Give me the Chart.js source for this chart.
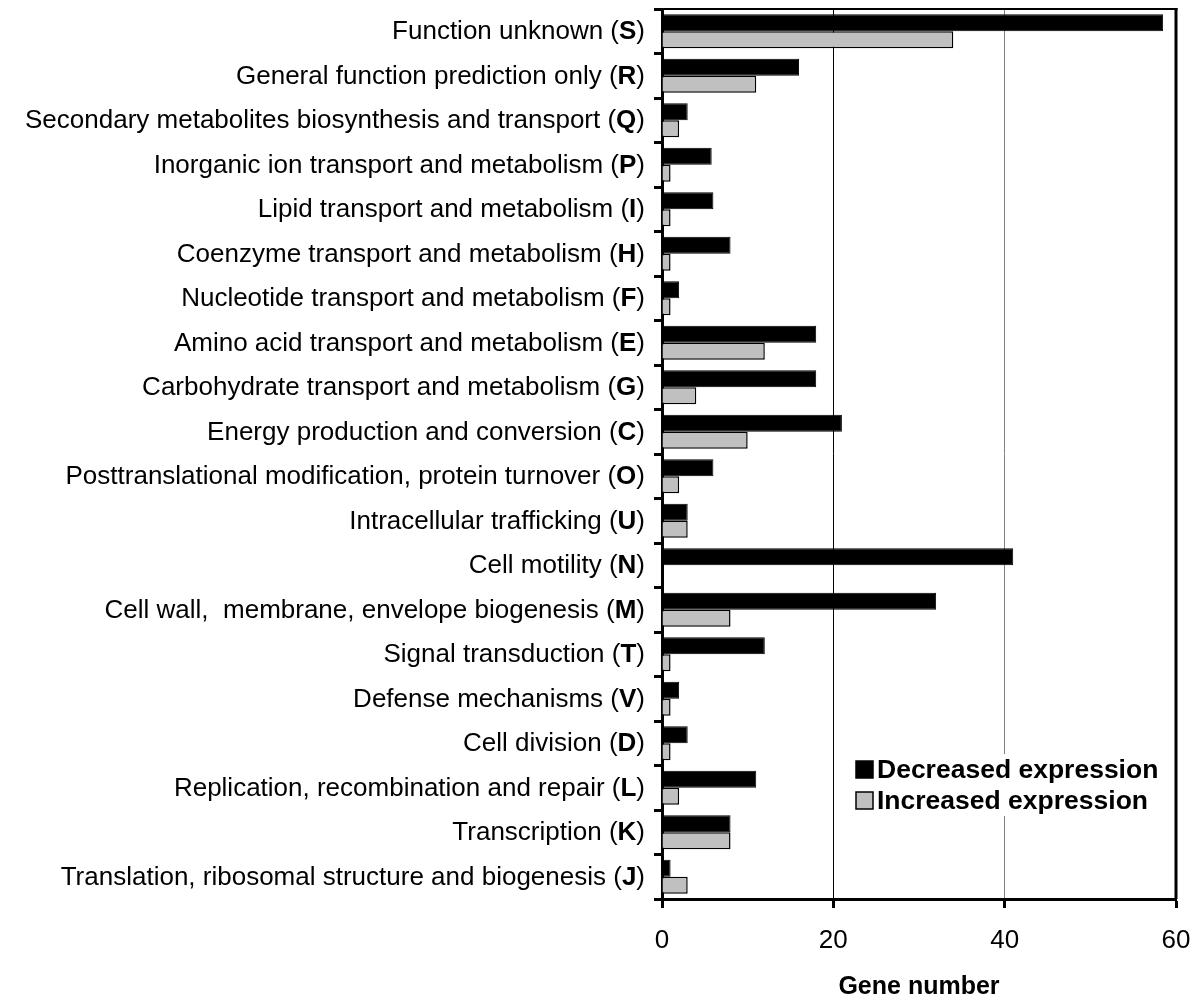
<!DOCTYPE html>
<html><head><meta charset="utf-8">
<script src="https://cdn.jsdelivr.net/npm/chart.js@4.4.1/dist/chart.umd.min.js"></script>
<style>html,body{margin:0;padding:0;background:#fff;} #wrap{width:1195px;height:1005px;}</style>
</head><body><div id="wrap"><canvas id="c" width="1195" height="1005"></canvas></div>
<script>
const categoryNames = [
  'Function unknown',
  'General function prediction only',
  'Secondary metabolites biosynthesis and transport',
  'Inorganic ion transport and metabolism',
  'Lipid transport and metabolism',
  'Coenzyme transport and metabolism',
  'Nucleotide transport and metabolism',
  'Amino acid transport and metabolism',
  'Carbohydrate transport and metabolism',
  'Energy production and conversion',
  'Posttranslational modification, protein turnover',
  'Intracellular trafficking',
  'Cell motility',
  'Cell wall,  membrane, envelope biogenesis',
  'Signal transduction',
  'Defense mechanisms',
  'Cell division',
  'Replication, recombination and repair',
  'Transcription',
  'Translation, ribosomal structure and biogenesis'
];
const categoryCodes = ['S','R','Q','P','I','H','F','E','G','C','O','U','N','M','T','V','D','L','K','J'];
const decreased = [58.5,16,3,5.8,6,8,2,18,18,21,6,3,41,32,12,2,3,11,8,1];
const increased = [34,11,2,1,1,1,1,12,4,10,2,3,0,8,1,1,1,2,8,3];
const xTicks = [0,20,40,60];
const seriesNames = ['Decreased expression','Increased expression'];
const axisTitle = 'Gene number';

const FONT = '"Liberation Sans", Arial, sans-serif';
Chart.defaults.font.family = FONT;
Chart.defaults.color = '#000';

const labels = categoryNames.map((n,i)=> n + ' (' + categoryCodes[i] + ')');

const customDraw = {
  id: 'customDraw',
  afterDraw(chart) {
    const ctx = chart.ctx;
    const ca = chart.chartArea;
    const ys = chart.scales.y;
    ctx.save();
    // frame top and right
    ctx.strokeStyle = '#000';
    ctx.lineWidth = 2;
    ctx.beginPath();
    ctx.moveTo(ca.left, ca.top); ctx.lineTo(ca.right + 1.5, ca.top);
    ctx.stroke();
    ctx.lineWidth = 3;
    ctx.beginPath();
    ctx.moveTo(ca.right, ca.top - 1); ctx.lineTo(ca.right, ca.bottom);
    ctx.stroke();

    // category labels with bold code letter
    ctx.fillStyle = '#000';
    ctx.textBaseline = 'middle';
    ctx.textAlign = 'left';
    const normal = '26px ' + FONT;
    const bold = 'bold 26px ' + FONT;
    const rightX = ca.left - 17;
    categoryNames.forEach((name, i) => {
      const y = ys.getPixelForTick(i);
      const a = name + ' (';
      const b = categoryCodes[i];
      const c = ')';
      ctx.font = normal; const wa = ctx.measureText(a).width; const wc = ctx.measureText(c).width;
      ctx.font = bold; const wb = ctx.measureText(b).width;
      let x = rightX - (wa + wb + wc);
      ctx.font = normal; ctx.fillText(a, x, y + 1); x += wa;
      ctx.font = bold; ctx.fillText(b, x, y + 1); x += wb;
      ctx.font = normal; ctx.fillText(c, x, y + 1);
    });

    // legend inside plot
    const lx = ca.left + 186, ly = ca.bottom - 145;
    ctx.fillStyle = '#fff';
    ctx.fillRect(lx, ly, 318, 62);
    const ds = chart.data.datasets;
    ctx.font = 'bold 26.5px ' + FONT;
    ctx.textBaseline = 'alphabetic';
    ds.forEach((d, i) => {
      const sy = ly + 7 + i * 31;
      ctx.fillStyle = d.backgroundColor;
      ctx.fillRect(lx + 8, sy, 17, 17);
      ctx.strokeStyle = '#000';
      ctx.lineWidth = 1.5;
      ctx.strokeRect(lx + 8, sy, 17, 17);
      ctx.fillStyle = '#000';
      ctx.fillText(d.label, lx + 29, sy + 17);
    });
    ctx.restore();
  }
};

new Chart(document.getElementById('c'), {
  type: 'bar',
  data: {
    labels: labels,
    datasets: [
      { label: seriesNames[0], data: decreased, backgroundColor: '#000000', borderColor: '#000000', borderWidth: 1,
        categoryPercentage: 0.76, barPercentage: 1.0 },
      { label: seriesNames[1], data: increased, backgroundColor: '#c0c0c0', borderColor: '#000000', borderWidth: 1.5,
        categoryPercentage: 0.76, barPercentage: 1.0 }
    ]
  },
  options: {
    indexAxis: 'y',
    responsive: false,
    animation: false,
    devicePixelRatio: 1,
    layout: { padding: { top: 9, right: 19, left: 0, bottom: 0 } },
    plugins: { legend: { display: false }, tooltip: { enabled: false } },
    scales: {
      x: {
        type: 'linear', position: 'bottom', min: xTicks[0], max: xTicks[xTicks.length-1],
        afterBuildTicks: s => { s.ticks = xTicks.map(v => ({ value: v })); },
        ticks: { font: { size: 26 }, color: '#000', padding: 17, maxRotation: 0 },
        grid: {
          color: c => (c.tick && c.tick.value === 20) ? '#000000' : (c.tick && c.tick.value === 40) ? '#808080' : 'rgba(0,0,0,0)',
          lineWidth: 1, tickLength: 9, tickWidth: 3, tickColor: '#000', drawOnChartArea: true
        },
        border: { display: true, width: 3, color: '#000' },
        title: { display: true, text: axisTitle, font: { size: 25, weight: 'bold' }, color: '#000', padding: { top: 0, bottom: 3 } },
        afterFit: s => { s.height = 106; s.paddingLeft = 0; s.paddingRight = 0; }
      },
      y: {
        type: 'category',
        ticks: { font: { size: 1 }, color: 'rgba(0,0,0,0)', autoSkip: false },
        grid: { offset: true, drawOnChartArea: false, tickLength: 8, tickWidth: 3, tickColor: '#000' },
        border: { display: true, width: 3, color: '#000' },
        afterFit: s => { s.width = 662; s.paddingTop = 0; s.paddingBottom = 0; }
      }
    }
  },
  plugins: [customDraw]
});
</script>
</body></html>
